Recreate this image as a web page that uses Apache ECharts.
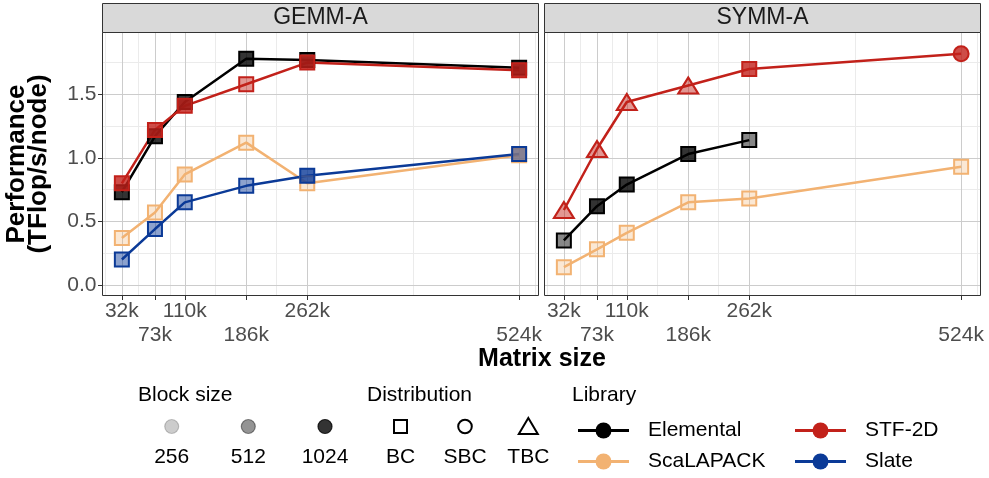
<!DOCTYPE html>
<html>
<head>
<meta charset="utf-8">
<script src="https://cdn.jsdelivr.net/npm/echarts@6/dist/echarts.min.js"></script>
<style>
html,body{margin:0;padding:0;background:#ffffff;}
#chart{width:989px;height:478px;}
</style>
</head>
<body>
<div id="chart"></div>
<script>
// ---------------- DATA ----------------
const matrixSizes = [32.768, 73.728, 110.592, 186.624, 262.144, 524.288]; // thousands
const tickLabels = ['32k', '73k', '110k', '186k', '262k', '524k'];
const yTicks = [0, 0.5, 1.0, 1.5];
const panelNames = ['GEMM-A', 'SYMM-A'];

// GEMM-A
const gemmElemental = [0.73, 1.17, 1.44, 1.78, 1.77, 1.71];
const gemmElementalBlock = [1024, 1024, 1024, 1024, 1024, 1024];
const gemmElementalDist = ['BC', 'BC', 'BC', 'BC', 'BC', 'BC'];
const gemmScalapack = [0.37, 0.57, 0.87, 1.12, 0.80, 1.02];
const gemmScalapackBlock = [256, 256, 512, 256, 256, 1024];
const gemmScalapackDist = ['BC', 'BC', 'BC', 'BC', 'BC', 'BC'];
const gemmSlate = [0.20, 0.44, 0.65, 0.78, 0.86, 1.03];
const gemmSlateBlock = [512, 512, 512, 512, 1024, 512];
const gemmSlateDist = ['BC', 'BC', 'BC', 'BC', 'BC', 'BC'];
const gemmStf = [0.80, 1.22, 1.41, 1.58, 1.75, 1.69];
const gemmStfBlock = [1024, 1024, 1024, 512, 1024, 1024];
const gemmStfDist = ['BC', 'BC', 'BC', 'BC', 'BC', 'BC'];

// SYMM-A
const symmElemental = [0.35, 0.62, 0.79, 1.03, 1.14];
const symmElementalBlock = [512, 1024, 1024, 1024, 512];
const symmElementalDist = ['BC', 'BC', 'BC', 'BC', 'BC'];
const symmScalapack = [0.14, 0.28, 0.41, 0.65, 0.68, 0.93];
const symmScalapackBlock = [256, 256, 256, 256, 256, 256];
const symmScalapackDist = ['BC', 'BC', 'BC', 'BC', 'BC', 'BC'];
const symmStf = [0.59, 1.07, 1.44, 1.57, 1.70, 1.82];
const symmStfBlock = [512, 512, 512, 512, 1024, 1024];
const symmStfDist = ['TBC', 'TBC', 'TBC', 'TBC', 'BC', 'SBC'];

// legend entries
const blockSizes = [256, 512, 1024];
const distributions = ['BC', 'SBC', 'TBC'];
const libraries = ['Elemental', 'ScaLAPACK', 'STF-2D', 'Slate'];

// ---------------- STYLE ----------------
const FONT = '"Liberation Sans", Arial, Helvetica, sans-serif';
const libColor = { 'Elemental': '#000000', 'ScaLAPACK': '#F2B272', 'STF-2D': '#C2211A', 'Slate': '#0B3A97' };
const blockAlpha = { 256: 0.3, 512: 0.47, 1024: 0.8 };
const legendAlpha = { 256: 0.2, 512: 0.42, 1024: 0.8 };
const distSymbol = { BC: 'rect', SBC: 'circle', TBC: 'triangle' };
const distSize = { BC: [14, 14], SBC: [15, 15], TBC: [20, 16] };

const X_MIN = 8.192, X_MAX = 548.864, Y_MIN = -0.087, Y_MAX = 1.991;
const PANEL_LEFTS = [102, 544];
const PANEL_TOP = 32, PANEL_W = 437, PANEL_H = 264;

function rgba(hex, a) {
  const n = parseInt(hex.slice(1), 16);
  return 'rgba(' + ((n >> 16) & 255) + ',' + ((n >> 8) & 255) + ',' + (n & 255) + ',' + a + ')';
}

// minor gridlines (ggplot style: midpoints between breaks)
const xMinor = [];
(function () {
  const b = matrixSizes.slice();
  const d = b[1] - b[0];
  const ext = [b[0] - d].concat(b, [b[b.length - 1] + d]);
  for (let i = 0; i < ext.length - 1; i++) {
    const m = (ext[i] + ext[i + 1]) / 2;
    if (m > X_MIN && m < X_MAX) xMinor.push(m);
  }
})();
const yMinor = [];
for (let i = 0; i < yTicks.length; i++) {
  const m = yTicks[i] + 0.25;
  if (m < Y_MAX) yMinor.push(m);
}
// staggered tick label rows (ggplot guide_axis(n.dodge = 2))
const xRow1 = matrixSizes.filter(function (v, i) { return i % 2 === 0; });
const xRow2 = matrixSizes.filter(function (v, i) { return i % 2 === 1; });

function xLabel(v) {
  let best = 0;
  for (let i = 1; i < matrixSizes.length; i++) {
    if (Math.abs(matrixSizes[i] - v) < Math.abs(matrixSizes[best] - v)) best = i;
  }
  return tickLabels[best];
}

const panelSeries = [
  [
    { lib: 'Elemental', y: gemmElemental, block: gemmElementalBlock, dist: gemmElementalDist },
    { lib: 'ScaLAPACK', y: gemmScalapack, block: gemmScalapackBlock, dist: gemmScalapackDist },
    { lib: 'Slate', y: gemmSlate, block: gemmSlateBlock, dist: gemmSlateDist },
    { lib: 'STF-2D', y: gemmStf, block: gemmStfBlock, dist: gemmStfDist }
  ],
  [
    { lib: 'Elemental', y: symmElemental, block: symmElementalBlock, dist: symmElementalDist },
    { lib: 'ScaLAPACK', y: symmScalapack, block: symmScalapackBlock, dist: symmScalapackDist },
    { lib: 'STF-2D', y: symmStf, block: symmStfBlock, dist: symmStfDist }
  ]
];

// ---------------- OPTION ----------------
const grids = [], xAxes = [], yAxes = [], series = [], graphics = [];
const labelStyle = { fontSize: 21, color: '#4d4d4d', fontFamily: FONT, lineHeight: 24, hideOverlap: false };

PANEL_LEFTS.forEach(function (left, gi) {
  grids.push({ left: left, top: PANEL_TOP, width: PANEL_W, height: PANEL_H, containLabel: false, outerBoundsMode: 'none', show: false });

  // x0: minor gridlines
  xAxes.push({
    gridIndex: gi, type: 'value', min: X_MIN, max: X_MAX, position: 'top', offset: 0, z: 0,
    axisLine: { show: false, onZero: false },
    axisTick: { show: false, customValues: xMinor },
    axisLabel: { show: false, customValues: xMinor },
    splitLine: { show: true, lineStyle: { color: '#ebebeb', width: 1 } }
  });
  // x1: major ticks, gridlines and first label row (data axis)
  xAxes.push({
    gridIndex: gi, type: 'value', min: X_MIN, max: X_MAX, position: 'bottom', offset: 0, z: 1,
    axisLine: { show: false, onZero: false },
    axisTick: { show: true, length: 4, customValues: matrixSizes, lineStyle: { color: '#333333', width: 1 } },
    axisLabel: Object.assign({ show: true, customValues: xRow1, margin: 3, formatter: xLabel }, labelStyle),
    splitLine: { show: true, lineStyle: { color: '#cccccc', width: 1 } }
  });
  // x2: second label row
  xAxes.push({
    gridIndex: gi, type: 'value', min: X_MIN, max: X_MAX, position: 'bottom', offset: 0, z: 1,
    axisLine: { show: false, onZero: false },
    axisTick: { show: false, customValues: xRow2 },
    axisLabel: Object.assign({ show: true, customValues: xRow2, margin: 27, formatter: xLabel }, labelStyle),
    splitLine: { show: false }
  });
  // y0: minor gridlines
  yAxes.push({
    gridIndex: gi, type: 'value', min: Y_MIN, max: Y_MAX, position: 'right', offset: 0, z: 0,
    axisLine: { show: false, onZero: false },
    axisTick: { show: false, customValues: yMinor },
    axisLabel: { show: false, customValues: yMinor },
    splitLine: { show: true, lineStyle: { color: '#ebebeb', width: 1 } }
  });
  // y1: major
  yAxes.push({
    gridIndex: gi, type: 'value', min: Y_MIN, max: Y_MAX, position: 'left', offset: 0, z: 1,
    axisLine: { show: false, onZero: false },
    axisTick: { show: gi === 0, length: 4, customValues: yTicks, lineStyle: { color: '#333333', width: 1 } },
    axisLabel: {
      show: gi === 0, customValues: yTicks, margin: 5.5, fontSize: 21, color: '#4d4d4d', fontFamily: FONT,
      showMinLabel: true, showMaxLabel: true,
      formatter: function (v) { return v.toFixed(1); }
    },
    splitLine: { show: true, lineStyle: { color: '#cccccc', width: 1 } }
  });

  panelSeries[gi].forEach(function (s) {
    const col = libColor[s.lib];
    series.push({
      name: panelNames[gi] + ' ' + s.lib,
      type: 'line',
      xAxisIndex: gi * 3 + 1,
      yAxisIndex: gi * 2 + 1,
      silent: true,
      animation: false,
      emphasis: { disabled: true },
      lineStyle: { color: col, width: 2.5 },
      itemStyle: { color: col },
      data: s.y.map(function (v, i) {
        const d = s.dist[i];
        return {
          value: [matrixSizes[i], v],
          symbol: distSymbol[d],
          symbolSize: distSize[d],
          itemStyle: { color: rgba(col, blockAlpha[s.block[i]]), borderColor: col, borderWidth: 2, opacity: 1 }
        };
      })
    });
  });

  // panel border
  graphics.push({
    type: 'rect', z: 50, silent: true,
    shape: { x: left + 0.5, y: PANEL_TOP + 0.5, width: PANEL_W - 1, height: PANEL_H - 1 },
    style: { fill: 'none', stroke: '#333333', lineWidth: 1 }
  });
  // strip
  graphics.push({
    type: 'rect', z: 50, silent: true,
    shape: { x: left + 0.5, y: 3.5, width: PANEL_W - 1, height: PANEL_TOP - 3 },
    style: { fill: '#d9d9d9', stroke: '#333333', lineWidth: 1 }
  });
  graphics.push({
    type: 'text', z: 51, silent: true,
    x: left + PANEL_W / 2, y: 18,
    style: { text: panelNames[gi], fill: '#1a1a1a', font: '23px ' + FONT, textAlign: 'center', textVerticalAlign: 'middle' }
  });
});

// axis titles
graphics.push({
  type: 'text', silent: true, x: 542, y: 359,
  style: { text: 'Matrix size', fill: '#000000', font: 'bold 25px ' + FONT, textAlign: 'center', textVerticalAlign: 'middle' }
});
graphics.push({
  type: 'text', silent: true, x: 28, y: 164, rotation: Math.PI / 2,
  style: { text: 'Performance\n(TFlop/s/node)', fill: '#000000', font: 'bold 26px ' + FONT, lineHeight: 22, textAlign: 'center', textVerticalAlign: 'middle' }
});

// ---------------- LEGENDS ----------------
const LEG_TITLE_Y = 395, LEG_KEY_Y = 426.5, LEG_LAB_Y = 457.5;
const legendFont = '21px ' + FONT;
function legendText(txt, x, y, align) {
  graphics.push({ type: 'text', silent: true, x: x, y: y, style: { text: txt, fill: '#000000', font: legendFont, textAlign: align, textVerticalAlign: 'middle' } });
}

// Block size
legendText('Block size', 138, LEG_TITLE_Y, 'left');
const blockX = [171.7, 248.3, 325];
blockSizes.forEach(function (b, i) {
  graphics.push({
    type: 'circle', silent: true,
    shape: { cx: blockX[i], cy: LEG_KEY_Y, r: 7 },
    style: { fill: rgba('#000000', legendAlpha[b]), stroke: rgba('#000000', legendAlpha[b]), lineWidth: 1.2 }
  });
  legendText(String(b), blockX[i], LEG_LAB_Y, 'center');
});

// Distribution
legendText('Distribution', 367, LEG_TITLE_Y, 'left');
const distX = [400.5, 465, 528.3];
graphics.push({ type: 'rect', silent: true, shape: { x: distX[0] - 6.5, y: LEG_KEY_Y - 6.5, width: 13, height: 13 }, style: { fill: 'none', stroke: '#000', lineWidth: 2 } });
graphics.push({ type: 'circle', silent: true, shape: { cx: distX[1], cy: LEG_KEY_Y, r: 6.8 }, style: { fill: 'none', stroke: '#000', lineWidth: 2 } });
graphics.push({ type: 'polygon', silent: true, shape: { points: [[distX[2], LEG_KEY_Y - 8.5], [distX[2] - 9.5, LEG_KEY_Y + 7.5], [distX[2] + 9.5, LEG_KEY_Y + 7.5]] }, style: { fill: 'none', stroke: '#000', lineWidth: 2 } });
distributions.forEach(function (d, i) { legendText(d, distX[i], LEG_LAB_Y, 'center'); });

// Library
legendText('Library', 572, LEG_TITLE_Y, 'left');
const libPos = {
  'Elemental': [578, 430.5], 'ScaLAPACK': [578, 461.5],
  'STF-2D': [795, 430.5], 'Slate': [795, 461.5]
};
libraries.forEach(function (lib) {
  const p = libPos[lib];
  const col = libColor[lib];
  graphics.push({ type: 'line', silent: true, shape: { x1: p[0], y1: p[1], x2: p[0] + 51, y2: p[1] }, style: { stroke: col, lineWidth: 3 } });
  graphics.push({ type: 'circle', silent: true, shape: { cx: p[0] + 25.5, cy: p[1], r: 8 }, style: { fill: col } });
  legendText(lib, p[0] + 70, p[1], 'left');
});

const chart = echarts.init(document.getElementById('chart'), null, { renderer: 'canvas', width: 989, height: 478 });
chart.setOption({
  animation: false,
  backgroundColor: '#ffffff',
  textStyle: { fontFamily: FONT },
  grid: grids,
  xAxis: xAxes,
  yAxis: yAxes,
  series: series,
  graphic: { elements: graphics }
});
</script>
</body>
</html>
